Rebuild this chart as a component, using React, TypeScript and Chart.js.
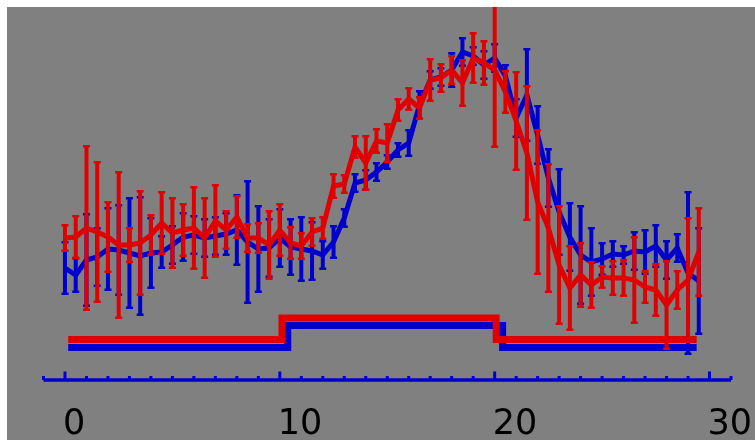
import React, { useEffect, useRef } from 'react';
import { Chart, registerables } from 'chart.js';

Chart.register(...registerables);

// x positions of the samples
const xValues = [
  0, 0.5, 1, 1.5, 2, 2.5, 3, 3.5, 4, 4.5,
  5, 5.5, 6, 6.5, 7, 7.5, 8, 8.5, 9, 9.5,
  10, 10.5, 11, 11.5, 12, 12.5, 13, 13.5, 14, 14.5,
  15, 15.5, 16, 16.5, 17, 17.5, 18, 18.5, 19, 19.5,
  20, 20.5, 21, 21.5, 22, 22.5, 23, 23.5, 24, 24.5,
  25, 25.5, 26, 26.5, 27, 27.5, 28, 28.5, 29, 29.5,
];

// blue series: mean and half error
const blueMean = [
  112, 105, 120, 123, 131, 130, 127, 124, 127, 128,
  135, 143, 145, 142, 144, 146, 150, 138, 131, 132,
  142, 133, 131, 129, 125, 138, 162, 197, 200, 208,
  218, 230, 237, 275, 300, 303, 310, 328, 324, 315,
  322, 304, 262, 285, 245, 202, 168, 143, 125, 118,
  121, 126, 125, 129, 128, 134, 120, 132, 107, 99,
];
const blueErr = [
  27, 18, 47, 30, 42, 46, 56, 60, 36, 17,
  20, 25, 20, 20, 20, 22, 36, 62, 44, 30,
  30, 29, 33, 30, 15, 17, 10, 10, 11, 10,
  8, 8, 14, 15, 10, 10, 18, 15, 10, 15,
  15, 12, 20, 47, 30, 30, 44, 35, 50, 35,
  17, 14, 10, 20, 23, 22, 20, 15, 82, 54,
];

// red series: mean and half error
const redMean = [
  142, 143, 152, 148, 143, 135, 135, 137, 145, 157,
  147, 150, 152, 142, 159, 150, 163, 142, 142, 135,
  150, 137, 134, 148, 152, 194, 196, 233, 217, 239,
  237, 270, 281, 272, 300, 302, 310, 297, 322, 317,
  310, 288, 259, 227, 178, 152, 115, 92, 105, 95,
  103, 102, 102, 100, 93, 90, 75, 90, 100, 128,
];
const redErr = [
  14, 22, 83, 71, 36, 74, 18, 53, 21, 32,
  36, 27, 42, 41, 37, 20, 22, 15, 16, 35,
  27, 17, 14, 15, 12, 13, 10, 12, 28, 13,
  20, 12, 12, 12, 22, 15, 15, 24, 26, 23,
  78, 22, 50, 68, 73, 65, 60, 43, 33, 24,
  12, 18, 19, 44, 17, 27, 45, 20, 63, 45,
];

// step (stimulus) traces
const blueStepX = [0.15, 10.37, 20.37, 29.4];
const blueStepY = [32.5, 54.5, 32.5, 32.5];
const redStepX = [0.15, 10.1, 20.07, 29.4];
const redStepY = [40.5, 62, 40.5, 40.5];

// axis
const xTickValues = [0, 10, 20, 30];
const xTickLabels = ['0', '10', '20', '30'];
const xMin = -1;
const xMax = 31;
const yMin = 0;
const yMax = 373;

const BLUE = '#0000cc';
const RED = '#e00000';
const GRAY = '#808080';

const backgroundPlugin = {
  id: 'grayBackground',
  beforeDraw(chart: any) {
    const { ctx, width, height } = chart;
    ctx.save();
    ctx.fillStyle = GRAY;
    ctx.fillRect(7, 7, width - 7, height - 7);
    ctx.restore();
  },
};

const errorBarPlugin = {
  id: 'errorBars',
  beforeDatasetDraw(chart: any, args: any) {
    const ds = chart.data.datasets[args.index];
    if (!ds.errors) return;
    const { ctx, chartArea } = chart;
    const xs = chart.scales.x;
    const ys = chart.scales.y;
    ctx.save();
    ctx.beginPath();
    ctx.rect(chartArea.left, chartArea.top, chartArea.right - chartArea.left, chartArea.bottom - chartArea.top);
    ctx.clip();
    ctx.strokeStyle = ds.borderColor;
    ctx.lineCap = 'butt';
    ds.data.forEach((p: any, i: number) => {
      const e = ds.errors[i];
      const px = xs.getPixelForValue(p.x);
      const top = ys.getPixelForValue(p.y + e);
      const bot = ys.getPixelForValue(p.y - e);
      ctx.lineWidth = 4;
      ctx.beginPath();
      ctx.moveTo(px, top);
      ctx.lineTo(px, bot);
      ctx.stroke();
      ctx.lineWidth = 2.5;
      ctx.beginPath();
      ctx.moveTo(px - 3.5, top + 1.2);
      ctx.lineTo(px + 3.5, top + 1.2);
      ctx.moveTo(px - 3.5, bot - 1.2);
      ctx.lineTo(px + 3.5, bot - 1.2);
      ctx.stroke();
    });
    ctx.restore();
  },
};

const axisPlugin = {
  id: 'blueAxis',
  afterDatasetsDraw(chart: any) {
    const { ctx, chartArea } = chart;
    const xs = chart.scales.x;
    const y = chartArea.bottom;
    ctx.save();
    ctx.strokeStyle = BLUE;
    ctx.lineCap = 'butt';
    ctx.lineWidth = 3.5;
    ctx.beginPath();
    ctx.moveTo(xs.getPixelForValue(xMin), y);
    ctx.lineTo(xs.getPixelForValue(xMax), y);
    ctx.stroke();
    ctx.lineWidth = 3;
    for (let v = xMin; v <= xMax; v++) {
      const px = xs.getPixelForValue(v);
      const len = xTickValues.includes(v) ? 8.5 : 4;
      ctx.beginPath();
      ctx.moveTo(px, y);
      ctx.lineTo(px, y - len);
      ctx.stroke();
    }
    ctx.restore();
  },
};

export default function App() {
  const ref = useRef<HTMLCanvasElement | null>(null);

  useEffect(() => {
    if (!ref.current) return;
    const pts = (xs: number[], ys: number[]) => xs.map((x, i) => ({ x, y: ys[i] }));
    const chart = new Chart(ref.current, {
      type: 'line',
      data: {
        datasets: [
          {
            label: 'red',
            data: pts(xValues, redMean),
            errors: redErr,
            borderColor: RED,
            borderWidth: 5,
            pointRadius: 0,
            tension: 0,
            fill: false,
            order: 0,
          } as any,
          {
            label: 'blue',
            data: pts(xValues, blueMean),
            errors: blueErr,
            borderColor: BLUE,
            borderWidth: 5,
            pointRadius: 0,
            tension: 0,
            fill: false,
            order: 1,
          } as any,
          {
            label: 'red step',
            data: pts(redStepX, redStepY),
            borderColor: RED,
            borderWidth: 7,
            pointRadius: 0,
            stepped: 'before',
            fill: false,
            order: 2,
          } as any,
          {
            label: 'blue step',
            data: pts(blueStepX, blueStepY),
            borderColor: BLUE,
            borderWidth: 7,
            pointRadius: 0,
            stepped: 'before',
            fill: false,
            order: 3,
          } as any,
        ],
      },
      options: {
        responsive: false,
        animation: false,
        devicePixelRatio: 1,
        layout: { padding: { top: 7, left: 43.5, right: 24, bottom: 0 } },
        plugins: {
          legend: { display: false },
          tooltip: { enabled: false },
          title: { display: false },
        },
        scales: {
          x: {
            type: 'linear',
            min: xMin,
            max: xMax,
            grid: { display: false, drawTicks: false },
            border: { display: false },
            afterBuildTicks: (scale: any) => {
              scale.ticks = xTickValues.map((v) => ({ value: v }));
            },
            afterFit: (scale: any) => {
              scale.height = 60;
              scale.paddingLeft = 0;
              scale.paddingRight = 0;
            },
            ticks: {
              includeBounds: false,
              align: 'start',
              labelOffset: -2,
              padding: 30,
              maxRotation: 0,
              autoSkip: false,
              color: '#000',
              font: { family: '"DejaVu Sans", sans-serif', size: 35, lineHeight: 0.86 },
              callback: (value: any) => {
                const idx = xTickValues.indexOf(Number(value));
                return idx >= 0 ? xTickLabels[idx] : '';
              },
            },
          },
          y: {
            type: 'linear',
            display: false,
            min: yMin,
            max: yMax,
          },
        },
      } as any,
      plugins: [backgroundPlugin, errorBarPlugin, axisPlugin],
    });
    return () => chart.destroy();
  }, []);

  return (
    <canvas
      ref={ref}
      width={755}
      height={440}
      style={{ position: 'fixed', left: 0, top: 0, width: 755, height: 440, display: 'block' }}
    />
  );
}
